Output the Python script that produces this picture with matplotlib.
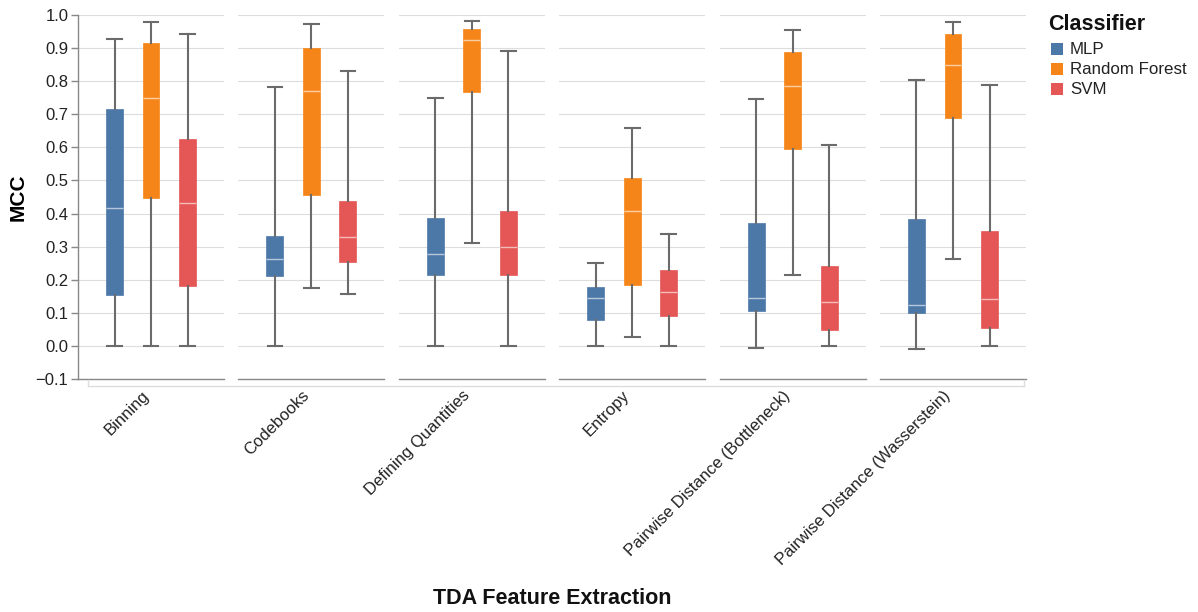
import matplotlib.pyplot as plt
from matplotlib.patches import Rectangle
from matplotlib.lines import Line2D

plt.rcParams['font.family'] = ['Liberation Sans', 'DejaVu Sans']

methods = ["Binning", "Codebooks", "Defining Quantities", "Entropy",
           "Pairwise Distance (Bottleneck)", "Pairwise Distance (Wasserstein)"]
classifiers = ["MLP", "Random Forest", "SVM"]
colors = ["#4c78a8", "#f58518", "#e45756"]

# per method, per classifier: [whisker low, q1, median, q3, whisker high]
mlp = [[0.0, 0.153, 0.417, 0.716, 0.926],
       [0.0, 0.211, 0.263, 0.332, 0.781],
       [0.0, 0.213, 0.279, 0.388, 0.750],
       [0.0, 0.079, 0.144, 0.178, 0.250],
       [-0.006, 0.104, 0.144, 0.372, 0.747],
       [-0.008, 0.099, 0.123, 0.384, 0.804]]
rf = [[0.0, 0.447, 0.749, 0.916, 0.978],
      [0.175, 0.455, 0.770, 0.899, 0.973],
      [0.311, 0.766, 0.923, 0.958, 0.983],
      [0.028, 0.183, 0.407, 0.506, 0.659],
      [0.213, 0.596, 0.784, 0.889, 0.955],
      [0.262, 0.688, 0.850, 0.944, 0.980]]
svm = [[0.0, 0.181, 0.432, 0.626, 0.943],
       [0.157, 0.253, 0.330, 0.439, 0.831],
       [0.0, 0.213, 0.298, 0.409, 0.891],
       [0.0, 0.089, 0.163, 0.229, 0.339],
       [0.0, 0.049, 0.134, 0.241, 0.606],
       [0.0, 0.055, 0.143, 0.347, 0.789]]
yticks = [-0.1, 0.0, 0.1, 0.2, 0.3, 0.4, 0.5, 0.6, 0.7, 0.8, 0.9, 1.0]

W, H = 1198, 612
fig = plt.figure(figsize=(W / 100, H / 100), dpi=100)

# panel geometry in pixels
left0, pw, step = 78, 146, 160.4
top, bottom = 15, 379

positions = [0.25, 0.5, 0.75]
all_data = [mlp, rf, svm]

for i, m in enumerate(methods):
    x0 = left0 + i * step
    ax = fig.add_axes([x0 / W, 1 - bottom / H, pw / W, (bottom - top) / H])
    ax.set_xlim(0, 1)
    ax.set_ylim(-0.1, 1.0)
    ax.set_yticks(yticks)
    ax.grid(axis='y', color='#dddddd', lw=0.8)
    ax.set_axisbelow(True)
    for s in ['top', 'right']:
        ax.spines[s].set_visible(False)
    ax.spines['bottom'].set_color('#888888')
    ax.spines['bottom'].set_linewidth(1.0)
    ax.set_xticks([])
    if i == 0:
        ax.spines['left'].set_color('#888888')
        ax.spines['left'].set_linewidth(1.0)
        ax.tick_params(axis='y', colors='#888888', length=5, width=1,
                       labelcolor='#222222', labelsize=12, pad=2)
        ax.set_yticklabels([f"{t:.1f}".replace('-', '\u2212') for t in yticks])
        ax.set_ylabel("MCC", fontsize=15, fontweight='bold', labelpad=6)
    else:
        ax.spines['left'].set_visible(False)
        ax.tick_params(axis='y', length=0, labelleft=False)

    for j, c in enumerate(classifiers):
        lo, q1, med, q3, hi = all_data[j][i]
        stats = [dict(whislo=lo, q1=q1, med=med, q3=q3, whishi=hi, fliers=[])]
        ax.bxp(stats, positions=[positions[j]], widths=0.116, capwidths=0.1,
               patch_artist=True, showfliers=False, manage_ticks=False,
               boxprops=dict(facecolor=colors[j], edgecolor=colors[j], lw=0.5),
               medianprops=dict(color='white', alpha=0.6, lw=1.0),
               whiskerprops=dict(color='#6b6b6b', lw=1.5),
               capprops=dict(color='#6b6b6b', lw=1.5))

    fig.text((x0 + pw / 2 - 10) / W, 1 - 388 / H, m, rotation=45,
             rotation_mode='anchor', ha='right', va='top', fontsize=12,
             color='#222222')

# light header frame under the panels
fig.add_artist(Line2D([88 / W, 1024 / W], [1 - 386 / H] * 2, color='#dddddd', lw=1))
fig.add_artist(Line2D([88 / W] * 2, [1 - 380 / H, 1 - 386 / H], color='#dddddd', lw=1))
fig.add_artist(Line2D([1024 / W] * 2, [1 - 380 / H, 1 - 386 / H], color='#dddddd', lw=1))

fig.text(552 / W, 1 - 599 / H, "TDA Feature Extraction", ha='center', va='center',
         fontsize=15.5, fontweight='bold', color='#111111')

# legend
fig.text(1048 / W, 1 - 24 / H, "Classifier", ha='left', va='center',
         fontsize=15.5, fontweight='bold', color='#111111')
for j, c in enumerate(classifiers):
    yc = 49 + j * 20
    fig.add_artist(Rectangle((1051 / W, 1 - (yc + 6) / H), 12 / W, 12 / H,
                             transform=fig.transFigure, facecolor=colors[j],
                             edgecolor='none'))
    fig.text(1070 / W, 1 - yc / H, c, ha='left', va='center', fontsize=12.2,
             color='#222222')

fig.savefig("out.png", dpi=100)
